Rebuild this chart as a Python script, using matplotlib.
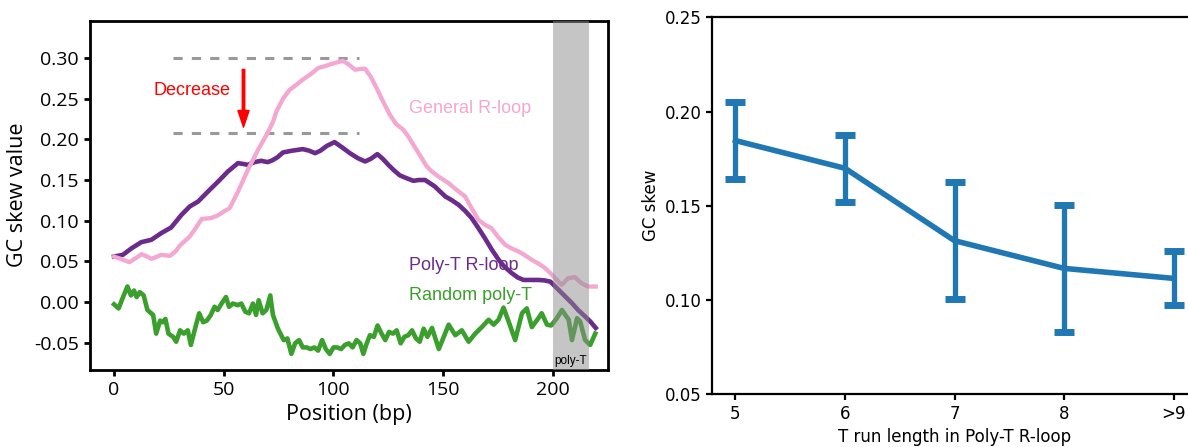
import numpy as np
import matplotlib
matplotlib.use("Agg")
import matplotlib.pyplot as plt

plt.rcParams['axes.unicode_minus'] = False

# ---- left panel: GC skew along the R-loop ----
general_x = [0, 3, 7, 10, 12.5, 15, 17, 19, 21.5, 25.5, 28, 30, 34.5, 37, 40, 44, 47,
             50, 52.7, 56.5, 61, 65.6, 70, 72.5, 74, 77, 80, 83, 86, 90, 93, 96, 99,
             102, 104.2, 107, 109.8, 112, 114.4, 117, 119.7, 122.5, 125.7, 128.5,
             131.8, 134, 136.4, 139.5, 142.5, 145, 148, 152.5, 156, 160, 163, 166,
             169, 172, 175, 178.3, 181, 184.4, 187.5, 190.4, 193.5, 196.5, 199, 201,
             204, 207, 210, 213, 216, 219.5]
general_y = [0.0556, 0.053, 0.0488, 0.054, 0.0587, 0.056, 0.053, 0.055, 0.0579, 0.0567,
             0.062, 0.0694, 0.0805, 0.090, 0.1022, 0.103, 0.106, 0.1112, 0.1154, 0.1358,
             0.1626, 0.187, 0.208, 0.222, 0.2344, 0.250, 0.261, 0.267, 0.2734, 0.281,
             0.2878, 0.290, 0.2927, 0.295, 0.2968, 0.292, 0.2857, 0.2865, 0.287, 0.277,
             0.263, 0.247, 0.2303, 0.219, 0.2118, 0.204, 0.1933, 0.180, 0.1667, 0.160,
             0.154, 0.146, 0.138, 0.1297, 0.115, 0.101, 0.095, 0.0907, 0.080, 0.0702,
             0.066, 0.062, 0.057, 0.0517, 0.047, 0.0415, 0.035, 0.0292, 0.021, 0.0292,
             0.0304, 0.023, 0.0189, 0.0189]

polyt_x = [0, 4, 8, 12.4, 17, 21.5, 26, 30.7, 34.5, 38.3, 42.8, 47.4, 51.9, 56.5, 61,
           64, 67, 70, 72, 74.5, 77, 81, 86, 89, 91.6, 94, 97, 100.5, 104, 107.5, 111,
           114.4, 117, 120, 122.5, 125, 127.5, 130.3, 133.5, 136.4, 139, 141.7, 144,
           146.2, 148.5, 151, 154, 157, 160, 163, 166, 169, 172, 175.3, 178, 181.3,
           184, 186.6, 190, 193.5, 196, 198.8, 202.6, 205.5, 208.7, 211.5, 214.7, 217,
           219.5]
polyt_y = [0.0558, 0.0579, 0.066, 0.0735, 0.0764, 0.0846, 0.0915, 0.107, 0.1174, 0.1235,
           0.1358, 0.148, 0.1605, 0.1708, 0.1687, 0.172, 0.1736, 0.172, 0.174, 0.178,
           0.1839, 0.186, 0.188, 0.186, 0.183, 0.186, 0.192, 0.1966, 0.190, 0.183, 0.177,
           0.1728, 0.176, 0.1818, 0.176, 0.1687, 0.162, 0.1556, 0.152, 0.149, 0.150,
           0.150, 0.146, 0.142, 0.136, 0.1297, 0.125, 0.1195, 0.112, 0.103, 0.091,
           0.0784, 0.065, 0.0517, 0.043, 0.0353, 0.030, 0.027, 0.027, 0.027, 0.0265,
           0.025, 0.0148, 0.007, -0.0016, -0.010, -0.018, -0.024, -0.032]

random_x = [0, 2.1, 3.8, 6.1, 7.7, 9.1, 10.3, 11.7, 13.5, 15.2, 17.8, 19.2, 21, 22.2,
            23.4, 24.8, 26.9, 28.3, 30.1, 31.8, 33.6, 35, 37.1, 38.8, 40.6, 42.3, 44.1,
            45.8, 47.2, 49, 51, 52.4, 54.2, 56.3, 58, 59.8, 61.5, 63.3, 64.7, 65.9, 67.7,
            69.4, 71.2, 72.4, 74.7, 77.3, 79, 80.8, 82.5, 84.3, 86, 87.8, 89.5, 91.3, 93,
            94.8, 96.5, 98.3, 100, 101.7, 103.5, 105.2, 107, 108.7, 110.5, 112.2, 113.6,
            114.9, 116.6, 118.4, 120.1, 121.9, 123.6, 125.3, 127.1, 128.8, 130.6, 132.3,
            134.1, 135.8, 137.6, 139.3, 141.1, 142.8, 144.9, 148, 152.5, 155.5, 158.5,
            161.6, 164.6, 167.6, 170.7, 173, 175.2, 177.5, 179.8, 182.8, 185.9, 188.1,
            190.4, 193.4, 194.9, 197.3, 199.2, 201.8, 204.1, 207.2, 208.7, 211, 212.4,
            214.7, 217, 219.3]
random_y = [-0.003, -0.008, 0.004, 0.019, 0.008, 0.014, 0.006, 0.012, 0.008, -0.010,
            -0.016, -0.039, -0.023, -0.025, -0.021, -0.039, -0.043, -0.049, -0.035,
            -0.039, -0.035, -0.053, -0.031, -0.014, -0.025, -0.023, -0.016, -0.006,
            -0.010, -0.002, 0.006, -0.006, -0.002, -0.004, -0.002, -0.012, -0.014,
            -0.002, -0.016, 0.002, -0.014, -0.010, 0.008, -0.016, -0.033, -0.047,
            -0.045, -0.064, -0.051, -0.047, -0.056, -0.056, -0.058, -0.056, -0.060,
            -0.047, -0.058, -0.064, -0.056, -0.056, -0.058, -0.053, -0.051, -0.056,
            -0.047, -0.051, -0.064, -0.053, -0.041, -0.043, -0.029, -0.039, -0.047,
            -0.037, -0.039, -0.035, -0.051, -0.043, -0.041, -0.035, -0.045, -0.049,
            -0.033, -0.043, -0.032, -0.058, -0.028, -0.041, -0.035, -0.049, -0.039,
            -0.031, -0.022, -0.028, -0.022, -0.007, -0.024, -0.047, -0.014, -0.008,
            -0.031, -0.020, -0.014, -0.028, -0.029, -0.020, -0.010, -0.022, -0.047,
            -0.020, -0.024, -0.047, -0.053, -0.039]

level_high = 0.2997
level_low = 0.2077
polyt_region = (200, 216.5)

# ---- right panel: mean GC skew by T run length ----
run_labels = ['5', '6', '7', '8', '>9']
skew_mean = [0.1846, 0.1699, 0.1315, 0.1168, 0.1115]
skew_err = [0.0203, 0.0177, 0.0312, 0.0337, 0.0143]

pink = '#f3a7d1'
purple = '#6b2b8b'
green = '#3a9f2c'

fig = plt.figure(figsize=(11.88, 4.47), dpi=100)
W, H = 1188, 447

# left
ax = fig.add_axes([89.7 / W, (H - 369.6) / H, 518.5 / W, 348.9 / H])
ax.plot(polyt_x, polyt_y, color=purple, lw=3.3, zorder=2)
ax.plot(general_x, general_y, color=pink, lw=3.1, zorder=2.1)
ax.plot(random_x, random_y, color=green, lw=3.3, zorder=2.2)
ax.axvspan(*polyt_region, color='#8c8c8c', alpha=0.5, lw=0, zorder=3)
ax.text(sum(polyt_region) / 2, -0.0725, 'poly-T', ha='center', va='center',
        fontsize=8.5, family='Liberation Sans', zorder=4)

for lvl in (level_high, level_low):
    ax.plot([27, 111.5], [lvl, lvl], color='#999999', lw=2.2,
            linestyle=(0, (3, 3)), zorder=1)
ax.annotate('', xy=(59, 0.215), xytext=(59, 0.286),
            arrowprops=dict(facecolor='red', edgecolor='red', width=1.8,
                            headwidth=8, headlength=12, shrink=0))
ax.text(18.2, 0.260, 'Decrease', color='red', fontsize=13,
        family='Liberation Sans', va='center')

ax.text(134.6, 0.2385, 'General R-loop', color=pink, fontsize=13,
        family='Liberation Sans', va='center')
ax.text(134.6, 0.0447, 'Poly-T R-loop', color=purple, fontsize=13,
        family='Liberation Sans', va='center')
ax.text(134.6, 0.0074, 'Random poly-T', color=green, fontsize=13,
        family='Liberation Sans', va='center')

ax.set_xlim(-11.1, 225.2)
ax.set_ylim(-0.0833, 0.346)
ax.set_xticks([0, 50, 100, 150, 200])
ax.set_yticks([-0.05, 0, 0.05, 0.10, 0.15, 0.20, 0.25, 0.30])
ax.yaxis.set_major_formatter(matplotlib.ticker.FormatStrFormatter('%.2f'))
for lab in ax.get_xticklabels() + ax.get_yticklabels():
    lab.set_family('Open Sans')
    lab.set_fontsize(14)
ax.tick_params(width=2, length=4.4)
for sp in ax.spines.values():
    sp.set_linewidth(2)
ax.set_xlabel('Position (bp)', family='Open Sans', fontsize=15.5)
ax.set_ylabel('GC skew value', family='Open Sans', fontsize=15.5)

# right
ax2 = fig.add_axes([712.5 / W, (H - 394.3) / H, 484 / W, 377 / H])
pos = np.arange(len(run_labels))
ax2.errorbar(pos, skew_mean, yerr=skew_err, color='#1f77b4', lw=4,
             elinewidth=3.8, capsize=7, capthick=5)
ax2.set_xlim(-0.21, 4.21)
ax2.set_ylim(0.05, 0.25)
ax2.set_xticks(pos)
ax2.set_xticklabels(run_labels)
ax2.set_yticks([0.05, 0.10, 0.15, 0.20, 0.25])
ax2.yaxis.set_major_formatter(matplotlib.ticker.FormatStrFormatter('%.2f'))
ax2.tick_params(labelsize=12, width=1.6, length=4)
for sp in ax2.spines.values():
    sp.set_linewidth(1.6)
ax2.set_xlabel('T run length in Poly-T R-loop', fontsize=12)
ax2.set_ylabel('GC skew', fontsize=12)

fig.savefig('out.png', dpi=100)
